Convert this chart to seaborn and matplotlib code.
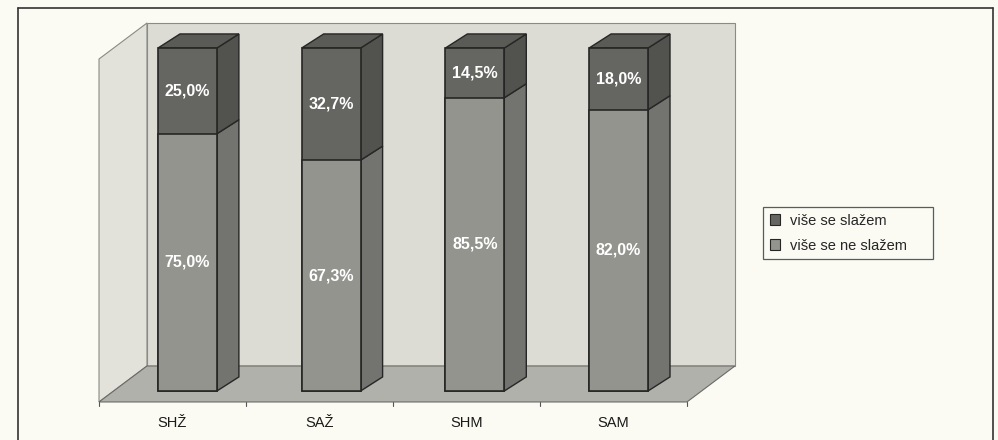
import matplotlib
matplotlib.use('Agg')
import matplotlib.pyplot as plt
import numpy as np
import pandas as pd
import seaborn as sns
from matplotlib.lines import Line2D
from matplotlib.patches import Polygon, Patch

# chart data
categories = ['SHŽ', 'SAŽ', 'SHM', 'SAM']
agree_more = [25.0, 32.7, 14.5, 18.0]        # više se slažem (top part)
disagree_more = [75.0, 67.3, 85.5, 82.0]     # više se ne slažem (bottom part)
series_names = ['više se slažem', 'više se ne slažem']

# colours (scanned grey look)
paper = '#fbfbf4'
wall_back = '#dcdcd5'
wall_side = '#e2e2db'
floor_col = '#b1b1ab'
dark_front, dark_side, dark_top = '#656561', '#52524f', '#5a5a56'
mid_front, mid_side = '#94948f', '#73736f'
edge = '#262626'

# 3d geometry in data units (x: categories, y: percent)
bar_w = 0.41
bar_dx, bar_dy = 0.153, 4.1
floor_dx, floor_dy = 0.334, 10.5
floor_front_y, floor_left, floor_right = -3.2, -0.6155, 3.476
wall_top = 107.3

sns.set_style('white')
plt.rcParams['font.family'] = ['Liberation Sans', 'DejaVu Sans']

df = pd.DataFrame({'cat': categories,
                   'total': np.array(agree_more) + np.array(disagree_more),
                   'lower': disagree_more})

fig = plt.figure(figsize=(9.98, 4.4), dpi=100, facecolor=paper)
ax = fig.add_axes([0, 0, 1, 1])
ax.set_facecolor(paper)

# walls and floor
fl, fr, fy = floor_left, floor_right, floor_front_y
ax.add_patch(Polygon([(fl, fy), (fl, wall_top - floor_dy), (fl + floor_dx, wall_top),
                      (fl + floor_dx, fy + floor_dy)],
                     closed=True, fc=wall_side, ec='#8a8a86', lw=0.8, zorder=0))
ax.add_patch(Polygon([(fl + floor_dx, fy + floor_dy), (fl + floor_dx, wall_top),
                      (fr + floor_dx, wall_top), (fr + floor_dx, fy + floor_dy)],
                     closed=True, fc=wall_back, ec='#8a8a86', lw=0.8, zorder=0))
ax.add_patch(Polygon([(fl, fy), (fl + floor_dx, fy + floor_dy),
                      (fr + floor_dx, fy + floor_dy), (fr, fy)],
                     closed=True, fc=floor_col, ec='#6a6a66', lw=0.8, zorder=0.5))

# front faces of the stacked bars
sns.barplot(data=df, x='cat', y='total', color=dark_front, width=bar_w,
            edgecolor=edge, linewidth=1.2, saturation=1, ax=ax, zorder=3)
sns.barplot(data=df, x='cat', y='lower', color=mid_front, width=bar_w,
            edgecolor=edge, linewidth=1.2, saturation=1, ax=ax, zorder=3)

# side and top faces
for i, (up, low) in enumerate(zip(agree_more, disagree_more)):
    xr = i + bar_w / 2
    xl = i - bar_w / 2
    top = up + low
    ax.add_patch(Polygon([(xr, 0), (xr + bar_dx, bar_dy), (xr + bar_dx, low + bar_dy), (xr, low)],
                         closed=True, fc=mid_side, ec=edge, lw=1.0, zorder=2.5))
    ax.add_patch(Polygon([(xr, low), (xr + bar_dx, low + bar_dy), (xr + bar_dx, top + bar_dy), (xr, top)],
                         closed=True, fc=dark_side, ec=edge, lw=1.0, zorder=2.5))
    ax.add_patch(Polygon([(xl, top), (xl + bar_dx, top + bar_dy), (xr + bar_dx, top + bar_dy), (xr, top)],
                         closed=True, fc=dark_top, ec=edge, lw=1.0, zorder=2.5))
    ax.text(i, low + up / 2, f'{up:.1f}%'.replace('.', ','), color='white', fontsize=11.5,
            fontweight='bold', ha='center', va='center', zorder=5)
    ax.text(i, low / 2, f'{low:.1f}%'.replace('.', ','), color='white', fontsize=11.5,
            fontweight='bold', ha='center', va='center', zorder=5)

# category axis under the floor
step = (fr - fl) / len(categories)
for k in range(len(categories) + 1):
    xt = fl + k * step
    ax.plot([xt, xt], [fy, fy - 1.3], color='#555555', lw=0.8, zorder=1)
for i, c in enumerate(categories):
    ax.text(fl + (i + 0.5) * step, -9.3, c, fontsize=10.5, ha='center', va='center', color='#1a1a1a')

ax.set_xlim(-1.3045, 5.6405)
ax.set_ylim(-14.29, 114.0)
ax.axis('off')

# legend
handles = [Patch(fc=dark_front, ec=edge, lw=0.8, label=series_names[0]),
           Patch(fc=mid_front, ec=edge, lw=0.8, label=series_names[1])]
leg = fig.legend(handles=handles, loc='upper left', bbox_to_anchor=(0.7645, 0.5295, 0.1705, 0.0),
                 mode='expand', frameon=True, fancybox=False, edgecolor='#333333', fontsize=10.5,
                 handlelength=0.7, handleheight=0.7, handletextpad=0.7,
                 borderpad=0.45, labelspacing=0.75, borderaxespad=0)
leg.get_frame().set_linewidth(0.9)
leg.get_frame().set_facecolor(paper)

# outer frame
for xs, ys in [([0.018, 0.018], [0.0, 0.982]), ([0.018, 0.995], [0.982, 0.982]),
               ([0.995, 0.995], [0.982, 0.0])]:
    fig.add_artist(Line2D(xs, ys, transform=fig.transFigure, color='#333333', lw=1.2))

fig.savefig('out.png', dpi=100, facecolor=paper)
